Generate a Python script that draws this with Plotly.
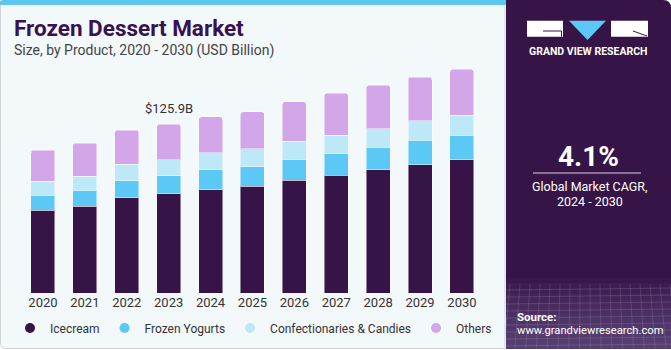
import plotly.graph_objects as go

years = ["2020", "2021", "2022", "2023", "2024", "2025", "2026", "2027", "2028", "2029", "2030"]
icecream = [61.8, 64.6, 71.0, 73.8, 77.0, 79.7, 84.0, 87.9, 91.9, 95.6, 99.3]
frozen_yogurts = [11.2, 12.1, 12.7, 13.6, 14.7, 14.4, 15.6, 15.9, 16.7, 18.2, 18.4]
confectionaries = [10.4, 10.4, 12.4, 11.9, 12.7, 13.2, 13.6, 13.9, 13.6, 14.4, 14.9]
others = [23.1, 24.6, 25.3, 26.6, 26.8, 27.6, 29.3, 31.1, 32.6, 32.6, 34.0]
series_names = ["Icecream", "Frozen Yogurts", "Confectionaries & Candies", "Others"]
colors = ["#371447", "#5bc8f5", "#bde8f8", "#d3a6ea"]
highlight_year = "2023"
highlight_label = "$125.9B"
cagr_text = "4.1%"

W, H = 671, 350
L, R, T, B = 22, 80, 60, 57
PW, PH = W - L - R, H - T - B
CAT_PX = 41.9  # pixels per category
Y_MAX = 233 * 125.9 / 169
X_RANGE = [-0.5, -0.5 + PW / CAT_PX]


def fx(px):
    return (px - L) / PW


def fy(py):
    return (H - B - py) / PH


fig = go.Figure()
for name, vals, col in zip(series_names, [icecream, frozen_yogurts, confectionaries, others], colors):
    fig.add_trace(go.Bar(x=years, y=vals, name=name, marker_color=col,
                         marker_line=dict(width=1, color="rgba(255,255,255,0.45)"),
                         showlegend=False))
for name, col in zip(series_names, colors):
    fig.add_trace(go.Scatter(x=[years[0]], y=[None], mode="markers", name=name,
                             marker=dict(color=col, size=10, symbol="circle")))

shapes = []
# left panel
shapes.append(dict(type="path", xref="paper", yref="paper",
                   path=f"M {fx(0.5)},{fy(3)} L {fx(505)},{fy(3)} L {fx(505)},{fy(348.5)} L {fx(6)},{fy(348.5)} "
                        f"Q {fx(0.5)},{fy(348.5)} {fx(0.5)},{fy(343)} Z",
                   fillcolor="#f3f8fb", line=dict(color="#cfd4d8", width=1), layer="below"))
shapes.append(dict(type="path", xref="paper", yref="paper",
                   path=f"M {fx(0)},{fy(5)} L {fx(0)},{fy(2)} Q {fx(0)},{fy(0)} {fx(3)},{fy(0)} L {fx(506)},{fy(0)} L {fx(506)},{fy(5)} Z",
                   fillcolor="#5ec6f0", line=dict(width=0), layer="below"))
# right panel
shapes.append(dict(type="path", xref="paper", yref="paper",
                   path=f"M {fx(506)},{fy(0)} L {fx(663)},{fy(0)} Q {fx(671)},{fy(0)} {fx(671)},{fy(8)} L {fx(671)},{fy(349)} L {fx(506)},{fy(349)} Z",
                   fillcolor="#371447", line=dict(width=0), layer="below"))
# bottom mesh gradient
steps = 14
for i in range(steps):
    y0 = 278 + i * (71 / steps)
    shapes.append(dict(type="rect", xref="paper", yref="paper",
                       x0=fx(506), x1=fx(671), y0=fy(y0), y1=fy(349),
                       fillcolor="rgba(120,110,150,0.06)", line=dict(width=0), layer="below"))
for i in range(9):
    yy = 290 + i * 7
    shapes.append(dict(type="line", xref="paper", yref="paper", x0=fx(506), x1=fx(671), y0=fy(yy), y1=fy(yy - 2),
                       line=dict(color="rgba(200,200,230,0.18)", width=1), layer="below"))
for i in range(17):
    xx = 510 + i * 10
    shapes.append(dict(type="line", xref="paper", yref="paper", x0=fx(xx), x1=fx(xx - 6 + i * 0.8), y0=fy(284), y1=fy(349),
                       line=dict(color="rgba(200,200,230,0.16)", width=1), layer="below"))
# logo
shapes.append(dict(type="rect", xref="paper", yref="paper", x0=fx(527), x1=fx(563), y0=fy(36.7), y1=fy(20.7),
                   fillcolor="white", line=dict(width=0)))
shapes.append(dict(type="path", xref="paper", yref="paper",
                   path=f"M {fx(543)},{fy(31)} L {fx(561.5)},{fy(31)} L {fx(561.5)},{fy(36.7)}",
                   line=dict(color="#371447", width=1)))
shapes.append(dict(type="path", xref="paper", yref="paper",
                   path=f"M {fx(569)},{fy(20.7)} L {fx(606)},{fy(20.7)} L {fx(587.5)},{fy(40)} Z",
                   fillcolor="#5bc8f5", line=dict(width=0)))
shapes.append(dict(type="rect", xref="paper", yref="paper", x0=fx(611), x1=fx(648), y0=fy(36.7), y1=fy(20.7),
                   fillcolor="white", line=dict(width=0)))
shapes.append(dict(type="path", xref="paper", yref="paper",
                   path=f"M {fx(633)},{fy(31)} L {fx(647)},{fy(36)}",
                   line=dict(color="#371447", width=1)))
# CAGR underline
shapes.append(dict(type="line", xref="paper", yref="paper", x0=fx(533), x1=fx(641), y0=fy(173), y1=fy(173),
                   line=dict(color="rgba(255,255,255,0.8)", width=1.2)))

hi = years.index(highlight_year)
hi_total = icecream[hi] + frozen_yogurts[hi] + confectionaries[hi] + others[hi]

annotations = [
    dict(text="<b>Frozen Dessert Market</b>", x=fx(12), y=fy(28), xref="paper", yref="paper",
         xanchor="left", yanchor="middle", showarrow=False,
         font=dict(family="Roboto", size=22.5, color="#3a1150", weight=900)),
    dict(text="Size, by Product, 2020 - 2030 (USD Billion)", x=fx(12), y=fy(50.5), xref="paper", yref="paper",
         xanchor="left", yanchor="middle", showarrow=False,
         font=dict(family="Roboto", size=14, color="#444444")),
    dict(text=highlight_label, x=hi, y=hi_total,
         xref="x", yref="y", xanchor="center", yanchor="bottom", yshift=6, showarrow=False,
         font=dict(family="Roboto", size=13, color="#333333")),
    dict(text="<b>GRAND VIEW RESEARCH</b>", x=fx(587.5), y=fy(51), xref="paper", yref="paper",
         xanchor="center", yanchor="middle", showarrow=False,
         font=dict(family="Roboto", size=10.5, color="white")),
    dict(text="<b>" + cagr_text + "</b>", x=fx(588), y=fy(156), xref="paper", yref="paper",
         xanchor="center", yanchor="middle", showarrow=False,
         font=dict(family="Roboto", size=28, color="white")),
    dict(text="Global Market CAGR,", x=fx(590), y=fy(186), xref="paper", yref="paper",
         xanchor="center", yanchor="middle", showarrow=False,
         font=dict(family="Roboto", size=12.5, color="white")),
    dict(text="2024 - 2030", x=fx(590), y=fy(201), xref="paper", yref="paper",
         xanchor="center", yanchor="middle", showarrow=False,
         font=dict(family="Roboto", size=12.5, color="white")),
    dict(text="<b>Source:</b>", x=fx(515), y=fy(317), xref="paper", yref="paper",
         xanchor="left", yanchor="middle", showarrow=False,
         font=dict(family="Roboto", size=11.5, color="white")),
    dict(text="www.grandviewresearch.com", x=fx(515), y=fy(330), xref="paper", yref="paper",
         xanchor="left", yanchor="middle", showarrow=False,
         font=dict(family="Roboto", size=11.2, color="white")),
]

fig.update_layout(
    width=W, height=H,
    margin=dict(l=L, r=R, t=T, b=B, pad=0, autoexpand=False),
    barmode="stack", bargap=0.427, barcornerradius=3,
    paper_bgcolor="white", plot_bgcolor="rgba(0,0,0,0)",
    font=dict(family="Roboto", size=13, color="#333333"),
    xaxis=dict(type="category", categoryorder="array", categoryarray=years, range=X_RANGE,
               showgrid=False, showline=False, ticks="", zeroline=False,
               tickfont=dict(family="Roboto", size=13, color="#333333")),
    yaxis=dict(range=[0, Y_MAX], visible=False, showgrid=False, zeroline=False),
    legend=dict(orientation="h", x=fx(10), y=fy(328), xanchor="left", yanchor="middle",
                xref="paper", yref="paper", traceorder="normal",
                font=dict(family="Roboto", size=12, color="#333333"),
                bgcolor="rgba(0,0,0,0)", itemwidth=30, tracegroupgap=0),
    shapes=shapes,
    annotations=annotations,
    showlegend=True,
)

fig.write_html("out.html")
